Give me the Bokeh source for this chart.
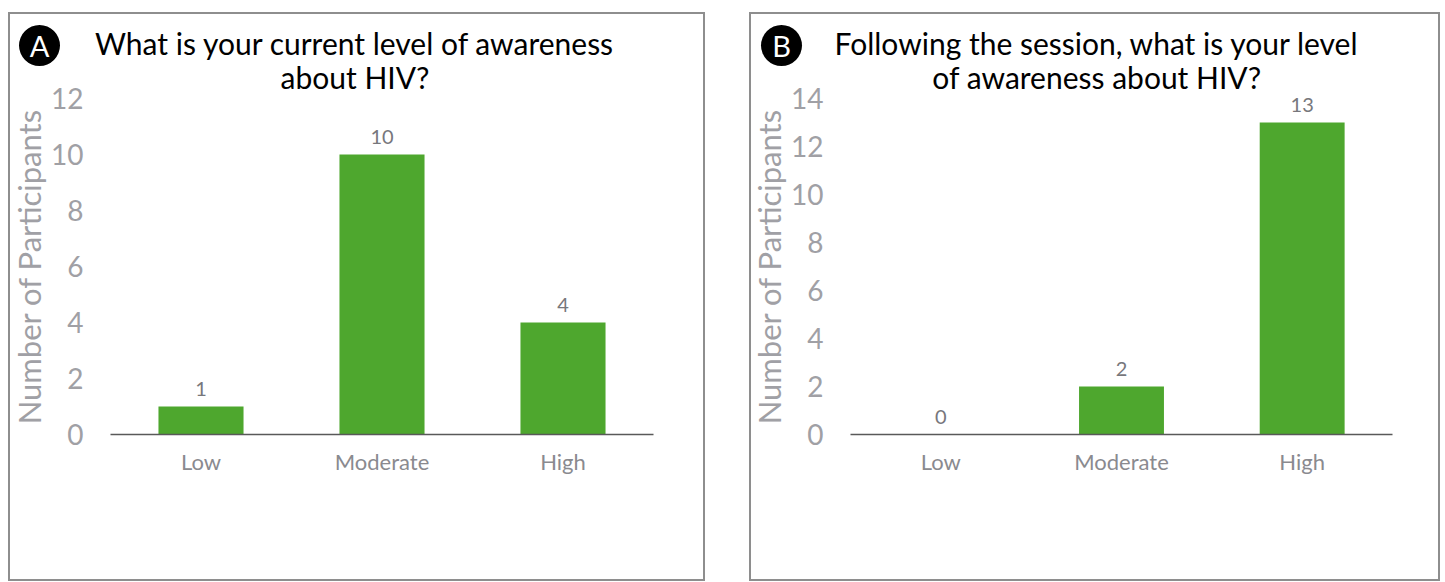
from bokeh.plotting import figure
from bokeh.layouts import row
from bokeh.models import (ColumnDataSource, LabelSet, FixedTicker, Range1d,
                          LinearAxis)
from bokeh.core.properties import value
from bokeh.embed import file_html
from bokeh.resources import INLINE

# Survey responses, before and after the session
levels = ["Low", "Moderate", "High"]
before_counts = [1, 10, 4]
after_counts = [0, 2, 13]
before_ticks = [0, 2, 4, 6, 8, 10, 12]
after_ticks = [0, 2, 4, 6, 8, 10, 12, 14]
before_title = ["What is your current level of awareness", "about HIV?"]
after_title = ["Following the session, what is your level", "of awareness about HIV?"]
y_label = "Number of Participants"

FONT = "Lato"
GREEN = "#4EA72E"
BORDER = 2          # css border drawn round each panel
PANEL_H = 569
FRAME_TOP = 86      # px from panel top to the top tick
FRAME_H = 336       # px between the zero line and the top tick


def make_panel(letter, title_lines, counts, ticks, width, plot_left, plot_w,
               badge_px, title_cx):
    ymax = ticks[-1]
    ncat = len(levels)
    cat_w = plot_w / ncat
    unit = FRAME_H / ymax
    base_px = FRAME_TOP + FRAME_H

    # panel pixels -> data coordinates (canvas sits inside the border)
    def dx(px):
        return (px - plot_left) / cat_w

    def dy(py):
        return (base_px - py) / unit

    p = figure(x_range=Range1d(dx(BORDER), dx(width + BORDER)),
               y_range=Range1d(dy(PANEL_H + BORDER), dy(BORDER)),
               width=width, height=PANEL_H, output_backend="svg",
               toolbar_location=None, x_axis_location=None,
               y_axis_location=None, min_border=0)
    p.outline_line_color = None
    p.grid.visible = False
    p.background_fill_color = "white"
    p.border_fill_color = "white"

    pos = [i + 0.5 for i in range(ncat)]
    src = ColumnDataSource(dict(pos=pos, level=levels, count=counts,
                                txt=[str(c) for c in counts]))
    p.vbar(x="pos", top="count", width=0.47, source=src,
           fill_color=GREEN, line_color=None)
    p.add_layout(LabelSet(x="pos", y="count", text="txt", source=src,
                          y_offset=11, text_align="center",
                          text_baseline="alphabetic",
                          text_font=value(FONT), text_font_size="20px",
                          text_color="#77777c"))

    # value axis
    ya = LinearAxis(fixed_location=0, bounds=(0, ymax),
                    ticker=FixedTicker(ticks=ticks))
    ya.axis_line_color = None
    ya.major_tick_line_color = None
    ya.minor_tick_line_color = None
    ya.major_tick_out = 0
    ya.major_tick_in = 0
    ya.major_label_standoff = 27
    ya.major_label_text_font = FONT
    ya.major_label_text_font_size = "28px"
    ya.major_label_text_color = "#a0a0a5"
    ya.axis_label = y_label
    ya.axis_label_standoff = 0
    ya.axis_label_text_font = FONT
    ya.axis_label_text_font_size = "31px"
    ya.axis_label_text_font_style = "normal"
    ya.axis_label_text_color = "#a0a0a5"
    p.add_layout(ya, "left")

    # category axis
    xa = LinearAxis(fixed_location=0, bounds=(0, ncat),
                    ticker=FixedTicker(ticks=pos),
                    major_label_overrides={x: lab for x, lab in zip(pos, levels)})
    xa.axis_line_color = "#595959"
    xa.axis_line_width = 1.6
    xa.major_tick_line_color = None
    xa.minor_tick_line_color = None
    xa.major_tick_out = 0
    xa.major_tick_in = 0
    xa.major_label_standoff = 13
    xa.major_label_text_font = FONT
    xa.major_label_text_font_size = "22px"
    xa.major_label_text_color = "#8a8a8f"
    p.add_layout(xa, "below")

    # heading, two centred lines
    p.text(x=[dx(title_cx)] * 2, y=[dy(30), dy(64)], text=title_lines,
           text_align="center", text_baseline="middle",
           text_font=value(FONT), text_font_size="30px", text_color="black")

    # panel letter badge
    bx, by = badge_px
    p.scatter(x=[dx(bx)], y=[dy(by)], size=41, marker="circle",
              fill_color="black", line_color=None)
    p.text(x=[dx(bx)], y=[dy(by)], text=[letter], text_align="center",
           text_baseline="middle", text_font=value(FONT),
           text_font_size="29px", text_color="white")

    p.styles = {"border": f"{BORDER}px solid #8e8e8e"}
    return p


pa = make_panel("A", before_title, before_counts, before_ticks,
                width=697, plot_left=102, plot_w=543,
                badge_px=(31, 33), title_cx=346.5)
pb = make_panel("B", after_title, after_counts, after_ticks,
                width=691, plot_left=101, plot_w=542,
                badge_px=(32, 33), title_cx=347.5)
pa.margin = (12, 0, 0, 8)
pb.margin = (12, 0, 0, 44)

layout = row(pa, pb)
open("out.html", "w").write(file_html(layout, INLINE))
